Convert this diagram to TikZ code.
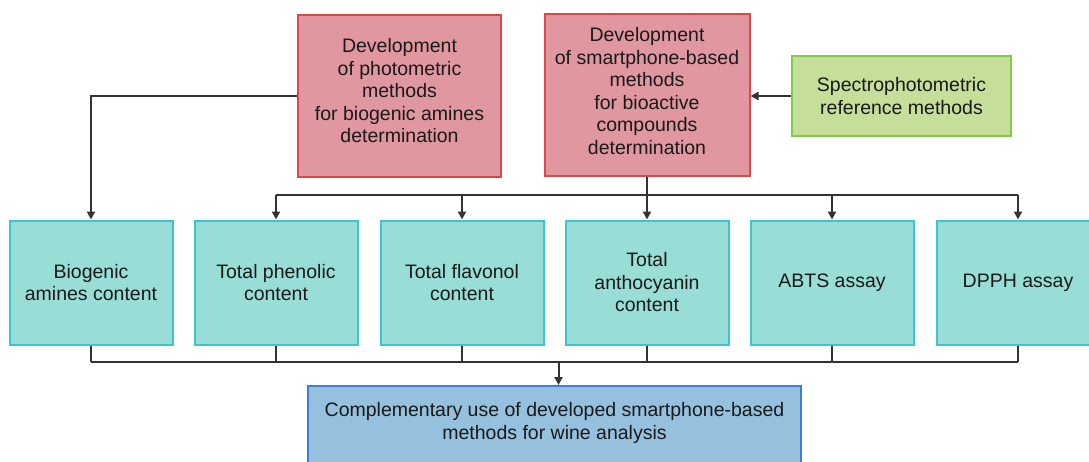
\documentclass[tikz,border=0pt]{standalone}
\usepackage{fontspec}
\setmainfont{Liberation Sans}
\usetikzlibrary{arrows.meta}
\definecolor{redfill}{HTML}{E0979F}
\definecolor{redline}{HTML}{D9484A}
\definecolor{tealfill}{HTML}{98DED6}
\definecolor{tealline}{HTML}{3CC6D2}
\definecolor{greenfill}{HTML}{C5DF9B}
\definecolor{greenline}{HTML}{7FCC45}
\definecolor{bluefill}{HTML}{96C1DE}
\definecolor{blueline}{HTML}{3C7ED9}
\definecolor{conn}{HTML}{333333}
\begin{document}
\begin{tikzpicture}[x=1pt,y=-1pt,
  txt/.style={align=center, inner sep=0pt, font=\fontsize{19.5}{22.5}\selectfont, text=black!90},
  box/.style={draw, line width=2pt, txt},
  redbox/.style={box, fill=redfill, draw=redline},
  tealbox/.style={box, fill=tealfill, draw=tealline, minimum width=163pt, minimum height=124pt},
  greenbox/.style={box, fill=greenfill, draw=greenline},
  bluebox/.style={box, fill=bluefill, draw=blueline},
  line/.style={draw=conn, line width=2pt},
  arr/.style={line, -{Triangle[length=8pt,width=8pt]}}]
\clip (0,0) rectangle (1089,461);
\useasboundingbox (0,0) rectangle (1089,461);
\fill[white] (0,0) rectangle (1089,461);

\node[redbox, minimum width=203pt, minimum height=162pt] (r1) at (399.5,96) {};
\node[txt] (r1t) at (399.5,91)
  {Development\\of photometric\\methods\\for biogenic amines\\determination};
\node[redbox, minimum width=205pt, minimum height=162pt] (r2) at (647,95) {};
\node[txt] (r2t) at (647,91)
  {Development\\of smartphone-based\\methods\\for bioactive\\compounds\\determination};
\node[greenbox, minimum width=219pt, minimum height=80pt] (g) at (901.5,96)
  {Spectrophotometric\\reference methods};

\node[tealbox] (t1) at (91,282.5) {Biogenic\\amines content};
\node[tealbox] (t2) at (276,282.5) {Total phenolic\\content};
\node[tealbox] (t3) at (462,282.5) {Total flavonol\\content};
\node[tealbox] (t4) at (647,282.5) {Total\\anthocyanin\\content};
\node[tealbox] (t5) at (832,282.5) {ABTS assay};
\node[tealbox] (t6) at (1018,282.5) {DPPH assay};

\node[bluebox, minimum width=493pt, minimum height=88pt] (b) at (554.5,430) {};
\node[txt] (bt) at (554.5,423)
  {Complementary use of developed smartphone-based\\methods for wine analysis};

\coordinate (tb) at (0,195);
\coordinate (bb) at (0,362);

\draw[arr] (r1.west) -| (t1.north);
\draw[arr] (g.west) -- (r2.east |- g.west);
\draw[line] (r2.south) -- (r2.south |- tb);
\draw[line] (t2.north |- tb) -- (t6.north |- tb);
\foreach \t in {t2,t3,t4,t5,t6} \draw[arr] (\t.north |- tb) -- (\t.north);

\foreach \t in {t1,t2,t3,t4,t5,t6} \draw[line] (\t.south) -- (\t.south |- bb);
\draw[line] (t1.south |- bb) -- (t6.south |- bb);
\draw[arr] ([xshift=4pt]b.north |- bb) -- ([xshift=4pt]b.north);
\end{tikzpicture}
\end{document}
